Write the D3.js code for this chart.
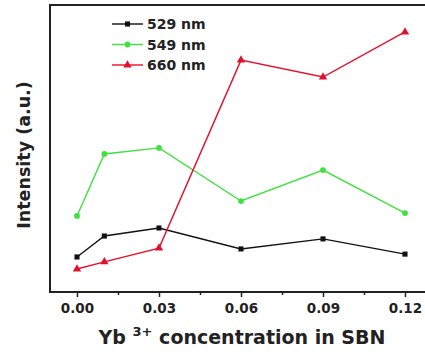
<!DOCTYPE html>
<html>
<head>
<meta charset="utf-8">
<script src="https://cdn.jsdelivr.net/npm/d3@7"></script>
<style>
  html, body { margin: 0; padding: 0; background: #fff; }
  svg { display: block; }
  text { font-family: "DejaVu Sans", sans-serif; font-weight: bold; }
</style>
</head>
<body>
<svg id="chart" width="425" height="354"></svg>
<script>
// Yb3+ concentration (x) and emission intensity (a.u.) per wavelength
const concentration = [0.00, 0.01, 0.03, 0.06, 0.09, 0.12];
const i529 = [12.2, 19.5, 22.3, 15.0, 18.5, 13.2];
const i549 = [26.5, 48.1, 50.2, 31.7, 42.5, 27.5];
const i660 = [8.0, 10.5, 15.3, 80.8, 74.9, 90.6];
const xTicks = [0.00, 0.03, 0.06, 0.09, 0.12];
const xMinorTicks = [0.015, 0.045, 0.075, 0.105];
const seriesNames = ["529 nm", "549 nm", "660 nm"];

const series = [
  { name: seriesNames[0], values: i529, color: "#111111", symbol: d3.symbolSquare, size: 26 },
  { name: seriesNames[1], values: i549, color: "#3ee23e", symbol: d3.symbolCircle, size: 26 },
  { name: seriesNames[2], values: i660, color: "#e3102c", symbol: d3.symbolTriangle, size: 30 }
];

const svg = d3.select("#chart");
const frameLeft = 50, frameTop = 5, frameBottom = 292, frameRight = 440;

const x = d3.scaleLinear().domain([0, 0.12]).range([77, 405]);
const y = d3.scaleLinear().domain([0, 100]).range([frameBottom, frameTop]);

// plot frame (right edge runs past the view)
svg.append("path")
  .attr("d", `M${frameRight},${frameTop}H${frameLeft}V${frameBottom}H${frameRight}`)
  .attr("fill", "none").attr("stroke", "#222").attr("stroke-width", 2);

// bottom axis with major and minor ticks
const xAxis = d3.axisBottom(x).tickValues(xTicks).tickFormat(d3.format(".2f"))
  .tickSize(5).tickPadding(6);
const gx = svg.append("g").attr("transform", `translate(0,${frameBottom})`).call(xAxis);
gx.select(".domain").remove();
gx.selectAll(".tick line").attr("stroke", "#222").attr("stroke-width", 1.5);
gx.selectAll(".tick text").attr("font-size", 13.5).attr("fill", "#222")
  .style("font-family", "'DejaVu Sans', sans-serif").style("font-weight", "bold");

const gm = svg.append("g").attr("transform", `translate(0,${frameBottom})`)
  .call(d3.axisBottom(x).tickValues(xMinorTicks).tickSize(3).tickFormat(""));
gm.select(".domain").remove();
gm.selectAll(".tick line").attr("stroke", "#222").attr("stroke-width", 1.5);

// series lines and markers
const line = d3.line().x(d => x(d[0])).y(d => y(d[1]));
series.forEach(s => {
  const pts = concentration.map((c, i) => [c, s.values[i]]);
  svg.append("path").datum(pts)
    .attr("d", line).attr("fill", "none")
    .attr("stroke", s.color).attr("stroke-width", 1.4);
  svg.append("g").selectAll("path").data(pts).join("path")
    .attr("transform", d => `translate(${x(d[0])},${y(d[1])})`)
    .attr("d", d3.symbol().type(s.symbol).size(s.size))
    .attr("fill", s.color);
});

// legend
const legend = svg.append("g");
series.forEach((s, i) => {
  const ly = 24 + i * 20.5;
  legend.append("line").attr("x1", 112).attr("x2", 143).attr("y1", ly).attr("y2", ly)
    .attr("stroke", s.color).attr("stroke-width", 1.4);
  legend.append("path").attr("transform", `translate(127.5,${ly})`)
    .attr("d", d3.symbol().type(s.symbol).size(s.size)).attr("fill", s.color);
  legend.append("text").attr("x", 147).attr("y", ly + 5)
    .attr("font-size", 14).attr("fill", "#222").text(s.name);
});

// axis titles
svg.append("text")
  .attr("transform", "translate(30,155) rotate(-90)")
  .attr("text-anchor", "middle").attr("font-size", 17.5).attr("fill", "#222")
  .text("Intensity (a.u.)");

const xt = svg.append("text").attr("x", 242).attr("y", 344)
  .attr("text-anchor", "middle").attr("font-size", 19).attr("fill", "#222");
xt.append("tspan").text("Yb ");
xt.append("tspan").attr("dy", -8).attr("font-size", 13).text("3+");
xt.append("tspan").attr("dy", 8).text(" concentration in SBN");
</script>
</body>
</html>
